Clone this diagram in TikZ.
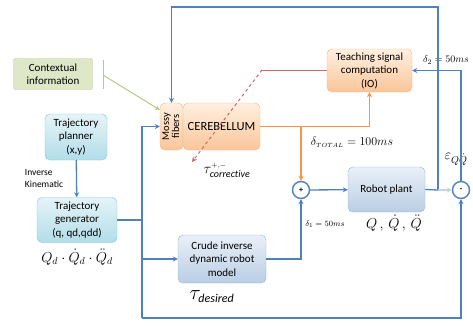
\documentclass[tikz,border=0pt]{standalone}
\usepackage{fontspec}
\usepackage{graphicx}
\setmainfont{Carlito}
\usetikzlibrary{arrows.meta,positioning,calc}
\definecolor{ctrlblue}{HTML}{4F81BD}
\definecolor{fadeblue}{HTML}{C6D3E3}
\definecolor{cboorange}{HTML}{F79646}
\definecolor{teachred}{HTML}{C0504D}
\definecolor{ctxgreen}{HTML}{B5CC84}
\definecolor{trajcyan}{HTML}{7FC6DA}
\definecolor{plantblue}{HTML}{95B3D7}

\begin{document}
\begin{tikzpicture}[x=1pt, y=-1pt,
      box/.style={rounded corners=5pt, align=center, inner sep=1pt,
                  font=\fontsize{11}{13.5}\selectfont},
      obox/.style={box, draw=cboorange!70, top color=orange!12, bottom color=cboorange!55},
      bbox/.style={box, draw=plantblue, top color=plantblue!20, bottom color=plantblue!65},
      cbox/.style={box, draw=trajcyan, top color=trajcyan!20, bottom color=trajcyan!60},
      gbox/.style={box, draw=ctxgreen, fill=ctxgreen!45, rounded corners=2pt},
      sumc/.style={circle, draw=ctrlblue, line width=1.4pt, fill=white, minimum size=17pt,
                   inner sep=0pt, font=\footnotesize\bfseries},
      ln/.style={ctrlblue, line width=1.3pt},
      arr/.style={ln, -{Stealth[length=5pt,width=5pt]}},
      oarr/.style={cboorange, line width=1.6pt, -{Stealth[length=5pt,width=5pt]}},
      lbl/.style={inner sep=0pt, font=\fontsize{9.5}{12}\selectfont}]
    \useasboundingbox (0,0) rectangle (473,327);
    % blocks
    \node[gbox, minimum width=79, minimum height=31] (ctx) at (53,74) {Contextual\\information};
    \node[cbox, minimum width=62, minimum height=46] (plan) at (76,137) {Trajectory\\planner\\(x,y)};
    \node[cbox, minimum width=80, minimum height=45] (gen) at (77,220) {Trajectory\\generator\\(q, qd,qdd)};
    \node[obox, minimum width=23, minimum height=47, inner sep=0pt, font=\fontsize{10.5}{13}\selectfont] (mossy) at (171.5,126.5)
      {\rotatebox{90}{\begin{tabular}{@{}c@{}}Mossy\\[-3pt]fibers\end{tabular}}};
    \node[obox, minimum width=77, minimum height=47, font=\fontsize{12.5}{14}\selectfont] (cereb) at (221.5,126.5) {CEREBELLUM};
    \node[obox, minimum width=85, minimum height=43] (teach) at (369.5,70.5) {Teaching signal\\computation\\(IO)};
    \node[bbox, minimum width=88, minimum height=48] (crude) at (222,259) {Crude inverse\\dynamic robot\\model};
    \node[bbox, minimum width=77, minimum height=45] (plant) at (386.5,189.5) {Robot plant};
    \node[sumc] (plus) at (301,190) {+};
    \node[sumc] (minus) at (461,190) {-};
    % signal labels
    \node[lbl, align=left] (ik) at (44,178) {Inverse\\Kinematic};
    \node[lbl] (qd) at (77,257) {\Large$Q_d\cdot\dot Q_d\cdot\ddot Q_d$};
    \node[lbl] (qp) at (394,223) {\Large$Q\,,\,\dot Q\,,\,\ddot Q$};
    \node[lbl] (tdes) at (212,297) {\huge$\tau_{\scriptscriptstyle\mathit{desired}}$};
    \node[lbl] (tcor) at (227,170) {\Large$\tau^{\scriptscriptstyle +,-}_{\scriptstyle\mathit{corrective}}$};
    \node[lbl] (dtot) at (352,142) {\large$\delta_{\scriptscriptstyle TOTAL}=100ms$};
    \node[lbl] (dl1) at (325,224) {\footnotesize$\delta_1=50ms$};
    \node[lbl] (dl2) at (446,60) {\normalsize$\delta_2=50ms$};
    \node[lbl] (eps) at (456,159) {\Large$\varepsilon_{\scriptstyle Q\dot Q}$};
    % connectors
    \coordinate (bus) at (142,318);
    \coordinate (tap) at (438,190);
    \coordinate (bend) at (262,70);
    \coordinate (ctxout) at (103,75);
    \draw[arr] (plan) -- (gen);
    \draw[ln] (gen.east) -- (gen.east -| bus);
    \draw[arr] (bus) -- (bus |- mossy.west) -- (mossy.west);
    \draw[arr] (bus |- crude.west) -- (crude.west);
    \draw[arr] (bus) -| (minus.south);
    \draw[arr] (crude.east) -| (plus.south);
    \draw[arr] (plus) -- (plant);
    \draw[ln] (plant.east) -- (tap);
    \draw[arr] (tap) -- (438,7) -| (mossy.north);
    \draw[fadeblue, line width=1.3pt, -{Stealth[length=5pt,width=5pt]}] (tap) -- (minus.west);
    \draw[arr] (minus.north) |- (teach.east);
    \draw[oarr] (cereb.east) -- (cereb.east -| teach.south) -- (teach.south);
    \draw[oarr] (cereb.east -| plus.north) -- (plus.north);
    \draw[teachred!85, line width=1pt] (teach.west |- bend) -- (bend);
    \draw[teachred!85, line width=1pt, dashed, -{Stealth[length=5pt,width=5pt]}] (bend) -- (192,162);
    \draw[ctxgreen, line width=0.8pt] (103,60) -- (103,89);
    \draw[ctxgreen, line width=1pt, -{Stealth[length=5pt,width=5pt]}]
      (ctxout) -- ($(mossy.north west)!0.15!(mossy.south west)$);
  \end{tikzpicture}
\end{document}
